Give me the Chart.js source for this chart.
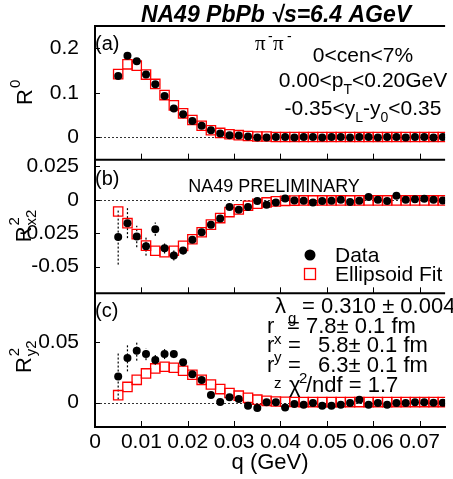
<!DOCTYPE html>
<html>
<head>
<meta charset="utf-8">
<script src="https://cdn.jsdelivr.net/npm/chart.js@4.4.0/dist/chart.umd.min.js"></script>
<style>
  html, body { margin: 0; padding: 0; background: #fff; }
  #hbtChart { display: block; }
</style>
</head>
<body>
<canvas id="hbtChart" width="453" height="479"></canvas>
<script>
// q bins (GeV)
const qBins = [0.005, 0.007, 0.009, 0.011, 0.013, 0.015, 0.017, 0.019, 0.021, 0.023,
               0.025, 0.027, 0.029, 0.031, 0.033, 0.035, 0.037, 0.039, 0.041, 0.043,
               0.045, 0.047, 0.049, 0.051, 0.053, 0.055, 0.057, 0.059, 0.061, 0.063,
               0.065, 0.067, 0.069, 0.071, 0.073, 0.075];

// (a) R^0
const r0Data = [0.138, 0.183, 0.171, 0.141, 0.119, 0.093, 0.065, 0.052, 0.037, 0.026,
                0.016, 0.009, 0.005, 0.004, 0.002, 0.000, 0.000, 0.001, 0.001, 0.000,
                0.001, 0.001, 0.000, 0.001, 0.001, 0.000, 0.001, 0.001, 0.000, 0.001,
                0.001, 0.000, 0.001, 0.001, 0.000, 0.001];
const r0Err = [0.004, 0.003, 0.003, 0.003, 0.002, 0.002, 0.002, 0.002, 0.002, 0.002,
               0.001, 0.001, 0.001, 0.001, 0.001, 0.001, 0.001, 0.001, 0.001, 0.001,
               0.001, 0.001, 0.001, 0.001, 0.001, 0.001, 0.001, 0.001, 0.001, 0.001,
               0.001, 0.001, 0.001, 0.001, 0.001, 0.001];
const r0Fit = [0.142, 0.164, 0.161, 0.141, 0.120, 0.095, 0.072, 0.054, 0.039, 0.026,
               0.016, 0.010, 0.007, 0.005, 0.003, 0.002, 0.002, 0.001, 0.001, 0.001,
               0.001, 0.001, 0.001, 0.001, 0.001, 0.001, 0.001, 0.001, 0.001, 0.001,
               0.001, 0.001, 0.001, 0.001, 0.001, 0.001];

// (b) R^2_x2
const rx2Data = [-0.0278, -0.0175, -0.0275, -0.0348, -0.0220, -0.0362, -0.0417, -0.0380, -0.0300, -0.0243,
                 -0.0186, -0.0141, -0.0055, -0.0075, -0.0055, -0.0010, -0.0037, -0.0020, 0.0010, -0.0005,
                 -0.0007, -0.0020, -0.0010, -0.0007, 0.0000, -0.0017, -0.0007, 0.0020, 0.0000, -0.0010,
                 0.0030, 0.0000, 0.0003, 0.0007, 0.0000, -0.0005];
const rx2Err = [0.0207, 0.0112, 0.0080, 0.0070, 0.0050, 0.0040, 0.0037, 0.0030, 0.0025, 0.0022,
                0.0020, 0.0018, 0.0015, 0.0015, 0.0015, 0.0015, 0.0015, 0.0015, 0.0015, 0.0015,
                0.0015, 0.0015, 0.0015, 0.0015, 0.0015, 0.0015, 0.0015, 0.0015, 0.0015, 0.0015,
                0.0015, 0.0015, 0.0015, 0.0015, 0.0015, 0.0015];
const rx2Fit = [-0.0088, -0.0175, -0.0257, -0.0343, -0.0381, -0.0392, -0.0381, -0.0345, -0.0295, -0.0243,
                -0.0186, -0.0137, -0.0092, -0.0072, -0.0045, -0.0030, -0.0020, -0.0012, -0.0008, -0.0006,
                -0.0005, -0.0005, -0.0005, -0.0005, -0.0005, -0.0005, -0.0005, -0.0005, -0.0005, -0.0005,
                -0.0005, -0.0005, -0.0005, -0.0005, -0.0005, -0.0005];

// (c) R^2_y2
const ry2Data = [0.0216, 0.0368, 0.0428, 0.0400, 0.0351, 0.0400, 0.0400, 0.0332, 0.0235, 0.0186,
                 0.0064, 0.0005, 0.0045, 0.0030, -0.0025, -0.0044, 0.0003, 0.0003, -0.0039, -0.0011,
                 -0.0017, -0.0003, -0.0025, -0.0025, -0.0017, -0.0003, 0.0025, -0.0017, -0.0003, -0.0017,
                 -0.0003, -0.0003, 0.0003, 0.0003, 0.0000, 0.0000];
const ry2Err = [0.0190, 0.0110, 0.0082, 0.0050, 0.0041, 0.0041, 0.0033, 0.0030, 0.0027, 0.0025,
                0.0022, 0.0020, 0.0018, 0.0018, 0.0018, 0.0018, 0.0018, 0.0018, 0.0018, 0.0018,
                0.0018, 0.0018, 0.0018, 0.0018, 0.0018, 0.0018, 0.0018, 0.0018, 0.0018, 0.0018,
                0.0018, 0.0018, 0.0018, 0.0018, 0.0018, 0.0018];
const ry2Fit = [0.0062, 0.0130, 0.0188, 0.0241, 0.0282, 0.0296, 0.0288, 0.0263, 0.0230, 0.0188,
                0.0150, 0.0112, 0.0080, 0.0058, 0.0040, 0.0025, 0.0015, 0.0010, 0.0008, 0.0006,
                0.0005, 0.0005, 0.0005, 0.0005, 0.0005, 0.0005, 0.0005, 0.0005, 0.0005, 0.0005,
                0.0005, 0.0005, 0.0005, 0.0005, 0.0005, 0.0005];

// axis ticks
const qTicks = [0, 0.01, 0.02, 0.03, 0.04, 0.05, 0.06, 0.07];
const r0Ticks = [0, 0.1, 0.2];
const rx2Ticks = [-0.05, -0.025, 0, 0.025];
const ry2Ticks = [0, 0.05];

const SANS = '"Liberation Sans", Arial, sans-serif';

const panels = [
  { axis: 'ya', values: r0Data, errors: r0Err, ticks: r0Ticks },
  { axis: 'yb', values: rx2Data, errors: rx2Err, ticks: rx2Ticks },
  { axis: 'yc', values: ry2Data, errors: ry2Err, ticks: ry2Ticks }
];

function toPoints(ys) {
  return qBins.map((q, i) => ({ x: q, y: ys[i] }));
}

function dataSet(ys, axis) {
  return {
    label: 'Data', data: toPoints(ys), yAxisID: axis,
    pointStyle: 'circle', pointRadius: 4, pointBackgroundColor: '#000', pointBorderWidth: 0
  };
}

function fitSet(ys, axis) {
  return {
    label: 'Ellipsoid Fit', data: toPoints(ys), yAxisID: axis,
    pointStyle: 'rect', pointRadius: 6.6, pointBorderColor: '#ff0000',
    pointBackgroundColor: 'rgba(0,0,0,0)', pointBorderWidth: 1.3
  };
}

// one of the three stacked y axes on the left
function panelAxis(min, max, ticks, weight) {
  return {
    type: 'linear', position: 'left', stack: 'panels', stackWeight: 1, weight: weight,
    min: min, max: max,
    afterBuildTicks: s => { s.ticks = ticks.map(v => ({ value: v })); },
    afterFit: s => { s.width = 95; },
    grid: { display: false },
    border: { display: true, color: '#000', width: 2 },
    ticks: {
      autoSkip: false, padding: 8, color: '#000',
      font: { family: SANS, size: 21 },
      callback: v => String(v)
    }
  };
}

function put(ctx, str, x, y, size, font) {
  ctx.font = (font || '') + ' ' + size + 'px ' + SANS;
  ctx.textAlign = 'left';
  ctx.textBaseline = 'alphabetic';
  ctx.fillStyle = '#000';
  ctx.fillText(str, x, y);
}

// centred line made of normal / sub / superscript runs
function richLine(ctx, parts, cx, y) {
  let total = 0;
  parts.forEach(p => {
    ctx.font = p.s + 'px ' + SANS;
    p.w = ctx.measureText(p.t).width;
    total += p.w;
  });
  let x = cx - total / 2;
  parts.forEach(p => {
    put(ctx, p.t, x, y + (p.dy || 0), p.s);
    x += p.w;
  });
}

// rotated y axis title: base letter with superscript and optional subscript
function axisTitle(ctx, base, sup, sub, x, cy) {
  ctx.save();
  ctx.translate(x, cy);
  ctx.rotate(-Math.PI / 2);
  ctx.font = '22px ' + SANS;
  const wb = ctx.measureText(base).width;
  ctx.font = '15px ' + SANS;
  const ws = Math.max(ctx.measureText(sup).width, sub ? ctx.measureText(sub).width : 0);
  const x0 = -(wb + ws) / 2;
  put(ctx, base, x0, 0, 22);
  put(ctx, sup, x0 + wb + 1, -12, 15);
  if (sub) put(ctx, sub, x0 + wb + 1, 5, 15);
  ctx.restore();
}

const panelDecor = {
  id: 'panelDecor',
  beforeDatasetsDraw(chart) {
    const { ctx, chartArea, scales } = chart;
    const xs = scales.x;
    ctx.save();
    // dotted zero lines
    ctx.strokeStyle = '#333';
    ctx.lineWidth = 1;
    ctx.setLineDash([2, 2]);
    panels.forEach(p => {
      const y0 = Math.round(scales[p.axis].getPixelForValue(0)) + 0.5;
      ctx.beginPath();
      ctx.moveTo(chartArea.left + 1, y0);
      ctx.lineTo(chartArea.right, y0);
      ctx.stroke();
    });
    // dotted error bars
    ctx.strokeStyle = '#000';
    ctx.lineWidth = 1.2;
    panels.forEach(p => {
      const ys = scales[p.axis];
      qBins.forEach((q, i) => {
        const px = xs.getPixelForValue(q);
        ctx.beginPath();
        ctx.moveTo(px, ys.getPixelForValue(p.values[i] - p.errors[i]));
        ctx.lineTo(px, ys.getPixelForValue(p.values[i] + p.errors[i]));
        ctx.stroke();
      });
    });
    ctx.restore();
  },
  afterDraw(chart) {
    const { ctx, chartArea, scales } = chart;
    const xs = scales.x;
    ctx.save();

    // frame: top edge and panel separators
    ctx.strokeStyle = '#000';
    ctx.lineWidth = 2;
    ctx.beginPath();
    ctx.moveTo(chartArea.left - 1, chartArea.top);
    ctx.lineTo(chartArea.right, chartArea.top);
    ['ya', 'yb'].forEach(id => {
      ctx.moveTo(chartArea.left - 1, scales[id].bottom);
      ctx.lineTo(chartArea.right, scales[id].bottom);
    });
    ctx.stroke();

    // inward tick marks
    ctx.lineWidth = 1;
    ctx.beginPath();
    panels.forEach(p => {
      const ys = scales[p.axis];
      qTicks.forEach(v => {
        if (v === 0) return;
        const px = Math.round(xs.getPixelForValue(v)) + 0.5;
        ctx.moveTo(px, ys.bottom);
        ctx.lineTo(px, ys.bottom - 6);
      });
      p.ticks.forEach(v => {
        const py = Math.round(ys.getPixelForValue(v)) + 0.5;
        ctx.moveTo(chartArea.left, py);
        ctx.lineTo(chartArea.left + 5, py);
      });
    });
    ctx.stroke();

    // title
    ctx.font = 'italic bold 23px ' + SANS;
    ctx.textAlign = 'center';
    ctx.textBaseline = 'alphabetic';
    ctx.fillStyle = '#000';
    ctx.fillText('NA49 PbPb \u221As=6.4 AGeV', 276, 22);

    // y axis titles
    const mid = id => (scales[id].top + scales[id].bottom) / 2;
    axisTitle(ctx, 'R', '0', null, 32, mid('ya'));
    axisTitle(ctx, 'R', '2', 'x2', 31, mid('yb'));
    axisTitle(ctx, 'R', '2', 'y2', 31, mid('yc') - 3);

    // panel tags
    put(ctx, '(a)', 95, 50, 20);
    put(ctx, '(b)', 95, 185, 20);
    put(ctx, '(c)', 95, 317, 20);

    // panel (a) selection labels
    ctx.font = '21px "Liberation Serif", serif';
    ctx.textAlign = 'left';
    ctx.fillText('\u03C0', 255, 50);
    ctx.fillText('\u03C0', 273, 50);
    put(ctx, '-', 268, 41, 14);
    put(ctx, '-', 287, 41, 14);
    richLine(ctx, [{ t: '0<cen<7%', s: 21 }], 363, 62);
    richLine(ctx, [{ t: '0.00<p', s: 21 }, { t: 'T', s: 14, dy: 7 }, { t: '<0.20GeV', s: 21 }], 363, 87);
    richLine(ctx, [{ t: '-0.35<y', s: 21 }, { t: 'L', s: 14, dy: 7 }, { t: '-y', s: 21 },
                   { t: '0', s: 14, dy: 7 }, { t: '<0.35', s: 21 }], 363, 115);

    // panel (b) label and legend
    richLine(ctx, [{ t: 'NA49 PRELIMINARY', s: 18 }], 274, 192);
    ctx.fillStyle = '#000';
    ctx.beginPath();
    ctx.arc(310, 255, 5.5, 0, Math.PI * 2);
    ctx.fill();
    ctx.strokeStyle = '#ff0000';
    ctx.lineWidth = 1.3;
    ctx.strokeRect(304.5, 268.5, 11, 11);
    put(ctx, 'Data', 335, 262, 21);
    put(ctx, 'Ellipsoid Fit', 335, 281, 21);

    // panel (c) fit parameters
    put(ctx, '\u03BB', 275, 313, 22);
    put(ctx, 'g', 288, 323, 15);
    put(ctx, '= 0.310 \u00B1 0.004', 302, 313, 22);
    put(ctx, 'r', 267, 333, 22);
    put(ctx, 'x', 274, 344, 15);
    put(ctx, '=', 287, 333, 22);
    put(ctx, '7.8\u00B1 0.1 fm', 306, 333, 22);
    put(ctx, 'r', 267, 352, 22);
    put(ctx, 'y', 274, 362, 15);
    put(ctx, '=', 288, 352, 22);
    put(ctx, '5.8\u00B1 0.1 fm', 318, 352, 22);
    put(ctx, 'r', 267, 372, 22);
    put(ctx, 'z', 274, 388, 15);
    put(ctx, '=', 288, 372, 22);
    put(ctx, '6.3\u00B1 0.1 fm', 318, 372, 22);
    put(ctx, '\u03C7', 289, 392, 22);
    put(ctx, '2', 299, 383, 15);
    put(ctx, '/ndf = 1.7', 306, 392, 22);

    ctx.restore();
  }
};

new Chart(document.getElementById('hbtChart'), {
  type: 'scatter',
  data: {
    datasets: [
      dataSet(r0Data, 'ya'), fitSet(r0Fit, 'ya'),
      dataSet(rx2Data, 'yb'), fitSet(rx2Fit, 'yb'),
      dataSet(ry2Data, 'yc'), fitSet(ry2Fit, 'yc')
    ]
  },
  options: {
    responsive: false,
    animation: false,
    events: [],
    layout: { padding: { top: 26, right: 0, bottom: 0, left: 0 } },
    plugins: {
      legend: { display: false },
      tooltip: { enabled: false }
    },
    scales: {
      x: {
        type: 'linear', position: 'bottom', min: 0, max: 0.0755,
        afterBuildTicks: s => { s.ticks = qTicks.map(v => ({ value: v })); },
        afterFit: s => { s.height = 52; },
        grid: { display: false },
        border: { display: true, color: '#000', width: 2 },
        ticks: {
          autoSkip: false, maxRotation: 0, padding: -5, color: '#000',
          font: { family: SANS, size: 21 },
          callback: v => String(v)
        },
        title: {
          display: true, text: 'q (GeV)', color: '#000',
          font: { family: SANS, size: 22 },
          padding: { top: 0, bottom: 3 }
        }
      },
      ya: panelAxis(-0.05, 0.25, r0Ticks, 3),
      yb: panelAxis(-0.07, 0.03, rx2Ticks, 2),
      yc: panelAxis(-0.02, 0.09, ry2Ticks, 1)
    }
  },
  plugins: [panelDecor]
});
</script>
</body>
</html>
